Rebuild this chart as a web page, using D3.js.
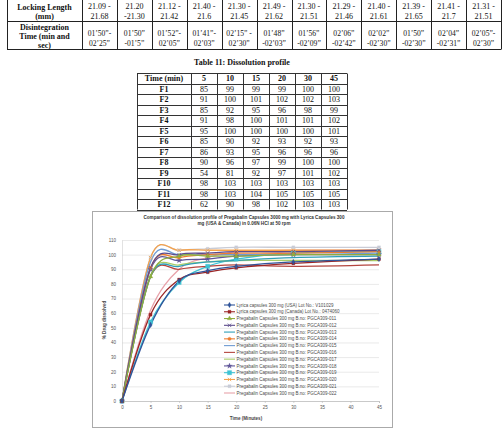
<!DOCTYPE html>
<html>
<head>
<meta charset="utf-8">
<script src="https://cdn.jsdelivr.net/npm/d3@7"></script>
<style>
  body { margin: 0; background: #fff; }
  svg { display: block; }
</style>
</head>
<body>
<div id="page"></div>
<script>
// ---------------- data ----------------
var lockingLength = [
  ["21.09 -", "21.68"], ["21.20", "-21.30"], ["21.12 -", "21.42"], ["21.40 -", "21.6"],
  ["21.30 -", "21.45"], ["21.49 -", "21.62"], ["21.30 -", "21.51"], ["21.29 -", "21.46"],
  ["21.40 -", "21.61"], ["21.39 -", "21.65"], ["21.41 -", "21.7"], ["21.31 -", "21.51"]
];
var disintegration = [
  ["01’50”-", "02’25”"], ["01’50”", "-01’5”"], ["01’52”-", "02’05”"], ["01’41”-", "02’03”"],
  ["02’15” -", "02’30”"], ["01’48”", "-02’03”"], ["01’56”", "-02’09”"], ["02’06”", "-02’42”"],
  ["02’02”", "-02’30”"], ["01’50”", "-02’30”"], ["02’04”", "-02’31”"], ["02’05”-", "02’30”"]
];

var profileTimes = [5, 10, 15, 20, 30, 45];
var formulations = ["F1", "F2", "F3", "F4", "F5", "F6", "F7", "F8", "F9", "F10", "F11", "F12"];
var profile = [
  [85, 99, 99, 99, 100, 100],
  [91, 100, 101, 102, 102, 103],
  [85, 92, 95, 96, 98, 99],
  [91, 98, 100, 101, 101, 102],
  [95, 100, 100, 100, 100, 101],
  [85, 90, 92, 93, 92, 93],
  [86, 93, 95, 96, 96, 96],
  [90, 96, 97, 99, 100, 100],
  [54, 81, 92, 97, 101, 102],
  [98, 103, 103, 103, 103, 103],
  [98, 103, 104, 105, 105, 105],
  [62, 90, 98, 102, 103, 103]
];

// chart series (time 0..45 min)
var chartTimes = [0, 5, 10, 15, 20, 30, 45];
var seriesNames = [
  "Lyrica capsules 300 mg (USA) Lot No.: V101029",
  "Lyrica capsules 300 mg (Canada) Lot No.: 0474060",
  "Pregabalin Capsules 300 mg B.no: PGCA309-011",
  "Pregabalin Capsules 300 mg B.no: PGCA309-012",
  "Pregabalin Capsules 300 mg B.no: PGCA309-013",
  "Pregabalin Capsules 300 mg B.no: PGCA309-014",
  "Pregabalin Capsules 300 mg B.no: PGCA309-015",
  "Pregabalin Capsules 300 mg B.no: PGCA309-016",
  "Pregabalin Capsules 300 mg B.no: PGCA309-017",
  "Pregabalin Capsules 300 mg B.no: PGCA309-018",
  "Pregabalin Capsules 300 mg B.no: PGCA309-019",
  "Pregabalin Capsules 300 mg B.no: PGCA309-020",
  "Pregabalin Capsules 300 mg B.no: PGCA309-021",
  "Pregabalin Capsules 300 mg B.no: PGCA309-022"
];
var seriesValues = [
  [0, 52, 82, 89, 92, 95, 97],
  [0, 59, 83, 88, 91, 94, 97],
  [0, 85, 99, 99, 99, 100, 100],
  [0, 91, 100, 101, 102, 102, 103],
  [0, 85, 92, 95, 96, 98, 99],
  [0, 91, 98, 100, 101, 101, 102],
  [0, 95, 100, 100, 100, 100, 101],
  [0, 85, 90, 92, 93, 92, 93],
  [0, 86, 93, 95, 96, 96, 96],
  [0, 90, 96, 97, 99, 100, 100],
  [0, 54, 81, 92, 97, 101, 102],
  [0, 98, 103, 103, 103, 103, 103],
  [0, 98, 103, 104, 105, 105, 105],
  [0, 62, 90, 98, 102, 103, 103]
];

// ---------------- styles ----------------
var seriesColors = ["#31549a", "#9b2626", "#8fae3e", "#5c4b8c", "#2f9fb8", "#ee7d2f", "#6f9bd2",
                    "#b4463f", "#a8cc68", "#5f5598", "#3ec3d3", "#f5a24c", "#c9ccd6", "#e8a2aa"];
var seriesMarkers = ["diamond", "square", "triangle", "cross", null, "circle", null,
                     null, null, "star", "bigsquare", "cross", "square", null];

var serif = "'Liberation Serif', 'Times New Roman', serif";
var sans = "'Liberation Sans', Arial, sans-serif";

var svg = d3.select("#page").append("svg")
  .attr("width", 503).attr("height", 432);

// ---------------- top table ----------------
var t1 = svg.append("g");
var t1Left = 7, t1First = 82, t1Right = 501;
var t1Rows = [-12, 21, 49];
var t1Cols = d3.scaleBand().domain(d3.range(12)).range([t1First, t1Right]);

t1Rows.forEach(function (yy) {
  t1.append("line").attr("x1", t1Left).attr("x2", t1Right).attr("y1", yy + 0.5).attr("y2", yy + 0.5)
    .attr("stroke", "#222").attr("stroke-width", 1);
});
[t1Left, t1First].concat(d3.range(12).map(function (i) { return t1Cols(i) + t1Cols.bandwidth(); }))
  .forEach(function (xx) {
    t1.append("line").attr("x1", Math.round(xx) + 0.5).attr("x2", Math.round(xx) + 0.5)
      .attr("y1", -12).attr("y2", 49.5).attr("stroke", "#222").attr("stroke-width", 1);
  });

function cellText(g, x, ys, lines, bold, size) {
  lines.forEach(function (s, i) {
    g.append("text").attr("x", x).attr("y", ys[i])
      .attr("text-anchor", "middle")
      .attr("font-family", serif).attr("font-size", size)
      .attr("font-weight", bold ? "bold" : "normal")
      .attr("fill", "#111").text(s);
  });
}

cellText(t1, (t1Left + t1First) / 2, [9.5, 19], ["Locking Length", "(mm)"], true, 8);
cellText(t1, (t1Left + t1First) / 2, [29.5, 38.5, 47.5], ["Disintegration", "Time (min  and", "sec)"], true, 8);
lockingLength.forEach(function (d, i) {
  cellText(t1, t1Cols(i) + t1Cols.bandwidth() / 2, [9, 18.5], d, false, 8);
});
disintegration.forEach(function (d, i) {
  cellText(t1, t1Cols(i) + t1Cols.bandwidth() / 2, [36, 45.5], d, false, 7.6);
});

// ---------------- table 11 ----------------
var t2 = svg.append("g");
svg.append("text").attr("x", 242).attr("y", 65)
  .attr("text-anchor", "middle").attr("font-family", serif).attr("font-size", 8)
  .attr("font-weight", "bold").attr("fill", "#111").text("Table 11: Dissolution profile");

var t2Left = 137, t2First = 191, t2Right = 347;
var t2Cols = d3.scaleBand().domain(d3.range(profileTimes.length)).range([t2First, t2Right]);
var t2Rows = d3.scaleBand().domain(d3.range(formulations.length + 1)).range([73, 209.5]);

d3.range(formulations.length + 2).forEach(function (i) {
  var yy = i <= formulations.length ? t2Rows(i) : t2Rows(formulations.length) + t2Rows.bandwidth();
  t2.append("line").attr("x1", t2Left).attr("x2", t2Right)
    .attr("y1", Math.round(yy) + 0.5).attr("y2", Math.round(yy) + 0.5)
    .attr("stroke", "#333").attr("stroke-width", 1);
});
[t2Left, t2First].concat(profileTimes.map(function (d, i) { return t2Cols(i) + t2Cols.bandwidth(); }))
  .forEach(function (xx) {
    t2.append("line").attr("x1", Math.round(xx) + 0.5).attr("x2", Math.round(xx) + 0.5)
      .attr("y1", 73.5).attr("y2", 209.5).attr("stroke", "#333").attr("stroke-width", 1);
  });

var rowMid = function (i) { return t2Rows(i) + t2Rows.bandwidth() / 2 + 2.8; };
cellText(t2, (t2Left + t2First) / 2, [rowMid(0)], ["Time (min)"], true, 8);
profileTimes.forEach(function (t, j) {
  cellText(t2, t2Cols(j) + t2Cols.bandwidth() / 2, [rowMid(0)], [String(t)], true, 8);
});
formulations.forEach(function (f, i) {
  cellText(t2, (t2Left + t2First) / 2, [rowMid(i + 1)], [f], true, 8);
  profile[i].forEach(function (v, j) {
    cellText(t2, t2Cols(j) + t2Cols.bandwidth() / 2, [rowMid(i + 1)], [String(v)], false, 8);
  });
});

// ---------------- chart ----------------
var c = svg.append("g");
c.append("rect").attr("x", 92.5).attr("y", 211.5).attr("width", 300).attr("height", 216)
  .attr("fill", "#fff").attr("stroke", "#aaa").attr("stroke-width", 1);

c.append("text").attr("x", 244).attr("y", 218.5).attr("text-anchor", "middle")
  .attr("font-family", sans).attr("font-size", 4.6).attr("font-weight", "bold").attr("fill", "#333")
  .text("Comparison of dissolution profile of Pregabalin Capsules 3000 mg with Lyrica Capsules 300");
c.append("text").attr("x", 244).attr("y", 224.5).attr("text-anchor", "middle")
  .attr("font-family", sans).attr("font-size", 4.6).attr("font-weight", "bold").attr("fill", "#333")
  .text("mg (USA & Canada) in 0.06N HCl at 50 rpm");

var xScale = d3.scaleLinear().domain([0, 45]).range([122, 379]);
var yScale = d3.scaleLinear().domain([0, 110]).range([401, 240]);

// gridlines
var grid = c.append("g").attr("transform", "translate(" + xScale(0) + ",0)")
  .call(d3.axisLeft(yScale).tickValues(d3.range(10, 111, 10)).tickSize(-(xScale(45) - xScale(0))).tickFormat(""));
grid.select(".domain").remove();
grid.selectAll("line").attr("stroke", "#dcdcdc").attr("stroke-width", 0.6);

// y labels
var yAx = c.append("g").attr("transform", "translate(" + xScale(0) + ",0)")
  .call(d3.axisLeft(yScale).tickValues(d3.range(0, 111, 10)).tickSize(0).tickPadding(6));
yAx.select(".domain").attr("stroke", "#cfcfcf").attr("stroke-width", 0.6);
yAx.selectAll("text").attr("font-family", sans).attr("font-size", 4.5).attr("fill", "#555");

// x axis
var xAx = c.append("g").attr("transform", "translate(0," + yScale(0) + ")")
  .call(d3.axisBottom(xScale).tickValues(d3.range(0, 46, 5)).tickSize(2).tickPadding(3));
xAx.select(".domain").attr("stroke", "#bbb").attr("stroke-width", 0.8);
xAx.selectAll("line").attr("stroke", "#bbb").attr("stroke-width", 0.6);
xAx.selectAll("text").attr("font-family", sans).attr("font-size", 4.5).attr("fill", "#555");

c.append("text").attr("x", 246).attr("y", 419.5).attr("text-anchor", "middle")
  .attr("font-family", sans).attr("font-size", 4.6).attr("font-weight", "bold").attr("fill", "#444")
  .text("Time (Minutes)");
c.append("text").attr("transform", "translate(105.5,320)rotate(-90)").attr("text-anchor", "middle")
  .attr("font-family", sans).attr("font-size", 4.6).attr("font-weight", "bold").attr("fill", "#444")
  .text("% Drug dissolved");

// lines
var line = d3.line()
  .x(function (d, i) { return xScale(chartTimes[i]); })
  .y(function (d) { return yScale(d); })
  .curve(d3.curveCardinal.tension(0));

function drawMarker(g, kind, x, y, color) {
  if (!kind) return;
  var types = {
    diamond: d3.symbolDiamond, square: d3.symbolSquare, triangle: d3.symbolTriangle,
    cross: d3.symbolX, circle: d3.symbolCircle, star: d3.symbolStar, bigsquare: d3.symbolSquare
  };
  var size = kind === "bigsquare" ? 18 : 9;
  g.append("path").attr("d", d3.symbol().type(types[kind]).size(size)())
    .attr("transform", "translate(" + x + "," + y + ")")
    .attr("fill", kind === "cross" ? "none" : color)
    .attr("stroke", color).attr("stroke-width", kind === "cross" ? 0.8 : 0.3);
}

var order = d3.range(seriesValues.length).reverse();
order.forEach(function (k) {
  c.append("path").datum(seriesValues[k])
    .attr("d", line)
    .attr("fill", "none").attr("stroke", seriesColors[k]).attr("stroke-width", 1.3);
});
order.forEach(function (k) {
  seriesValues[k].forEach(function (v, i) {
    drawMarker(c, seriesMarkers[k], xScale(chartTimes[i]), yScale(v), seriesColors[k]);
  });
});

// legend
var legY = d3.scaleLinear().domain([0, seriesNames.length - 1]).range([305, 393]);
var leg = c.append("g");
seriesNames.forEach(function (name, k) {
  var yy = legY(k);
  leg.append("line").attr("x1", 224).attr("x2", 235).attr("y1", yy).attr("y2", yy)
    .attr("stroke", seriesColors[k]).attr("stroke-width", 1.1);
  drawMarker(leg, seriesMarkers[k], 229.5, yy, seriesColors[k]);
  leg.append("text").attr("x", 236.5).attr("y", yy + 1.6)
    .attr("font-family", sans).attr("font-size", 4.5).attr("fill", "#4a4a4a").text(name);
});
</script>
</body>
</html>
